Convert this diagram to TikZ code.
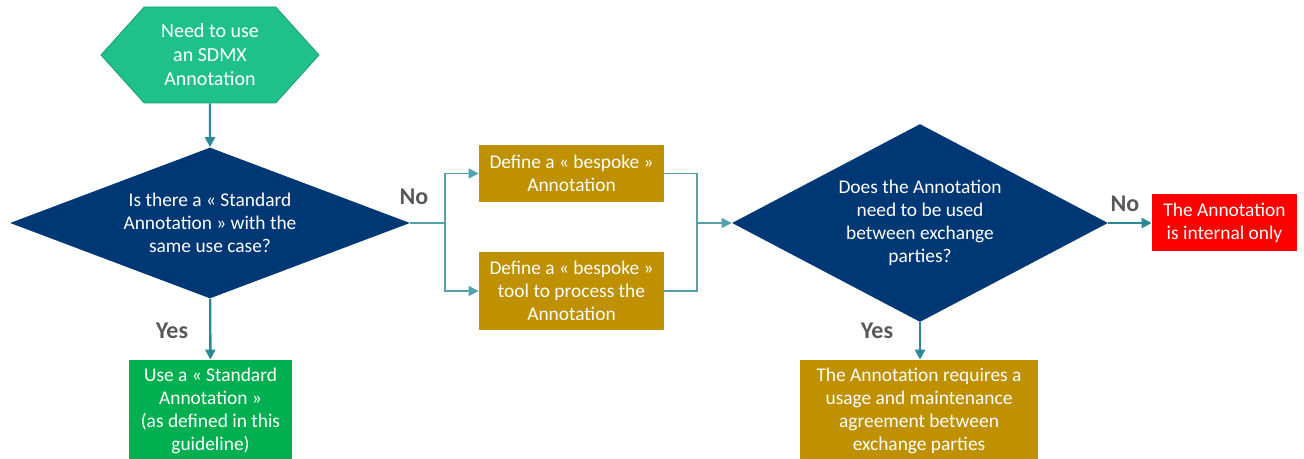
\documentclass[tikz,border=0pt]{standalone}
\usepackage{fontspec}
\setmainfont{Carlito}
\usetikzlibrary{shapes.geometric,shapes.symbols,arrows.meta}

\definecolor{hexgreen}{RGB}{32,192,138}
\definecolor{hexline}{RGB}{24,160,112}
\definecolor{navy}{RGB}{0,56,118}
\definecolor{gold}{RGB}{191,144,0}
\definecolor{stdgreen}{RGB}{0,176,80}
\definecolor{teal}{RGB}{40,138,148}
\definecolor{labelgray}{RGB}{89,89,89}

\tikzset{
  box/.style={rectangle, text=white, align=center, inner sep=0pt, font=\fontsize{9.7}{11.4}\selectfont},
  decision/.style={diamond, fill=navy, text=white, align=center, inner sep=0pt, font=\fontsize{9.7}{11.6}\selectfont},
  arr/.style={teal, line width=1.2pt, -{Triangle[length=5pt,width=5pt]}},
  thin line/.style={teal!80, line width=0.6pt},
  thin arr/.style={thin line, -{Triangle[length=5pt,width=5pt]}},
  answer/.style={text=labelgray, font=\fontsize{12}{14}\selectfont\bfseries}
}

\begin{document}
\begin{tikzpicture}[x=0.5pt, y=-0.5pt]
        \useasboundingbox (0,0) rectangle (1304,459);

        % Start
        \node[signal, signal to=east and west, signal pointer angle=96, fill=hexgreen, draw=hexline,
              text=white, align=center, inner sep=0pt, minimum width=109pt, minimum height=48pt,
              font=\fontsize{10}{12}\selectfont] (need) at (210,55) {Need to use\\an SDMX\\Annotation};

        % First question
        \node[decision, aspect=2.65, minimum width=200pt, minimum height=75.5pt] (q1) at (210,223)
              {Is there a « Standard\\Annotation » with the\\same use case?};
        \draw[arr] (need) -- (q1);

        % Yes: standard annotation
        \node[box, fill=stdgreen, minimum width=81.5pt, minimum height=51pt] (std) at (210.5,411)
              {Use a « Standard\\Annotation »\\(as defined in this\\guideline)};
        \draw[arr] (q1) -- (std);
        \node[answer] (yes1) at (172,331) {Yes};

        % No: bespoke branch
        \node[box, fill=gold, minimum width=92.5pt, minimum height=28.5pt] (bes1) at (571.5,173.5)
              {Define a « bespoke »\\Annotation};
        \node[box, fill=gold, minimum width=92.5pt, minimum height=39pt] (bes2) at (571.5,291)
              {Define a « bespoke »\\tool to process the\\Annotation};
        \coordinate (split) at (445,223);
        \coordinate (merge) at (697,223);
        \draw[thin line] (q1.east) -- (split);
        \node[answer] (no1) at (414,197) {No};
        \draw[thin arr] (split) |- (bes1.west);
        \draw[thin arr] (split) |- (bes2.west);
        \draw[thin line] (bes1.east) -| (merge);
        \draw[thin line] (bes2.east) -| (merge);

        % Second question
        \node[decision, aspect=1.9, minimum width=188pt, minimum height=99pt] (q2) at (920,223)
              {Does the Annotation\\need to be used\\between exchange\\parties?};
        \draw[thin arr] (merge) -- (q2.west);

        % No: internal
        \node[box, fill=red, minimum width=72.5pt, minimum height=28.5pt] (intern) at (1224.5,223)
              {The Annotation\\is internal only};
        \draw[arr] (q2.east) -- (intern.west);
        \node[answer] (no2) at (1125,204) {No};

        % Yes: agreement
        \node[box, fill=gold, minimum width=119pt, minimum height=51pt] (agree) at (919,411)
              {The Annotation requires a\\usage and maintenance\\agreement between\\exchange parties};
        \draw[arr] (q2.south) -- (q2.south |- agree.north);
        \node[answer] (yes2) at (877,331) {Yes};

    \end{tikzpicture}
\end{document}
